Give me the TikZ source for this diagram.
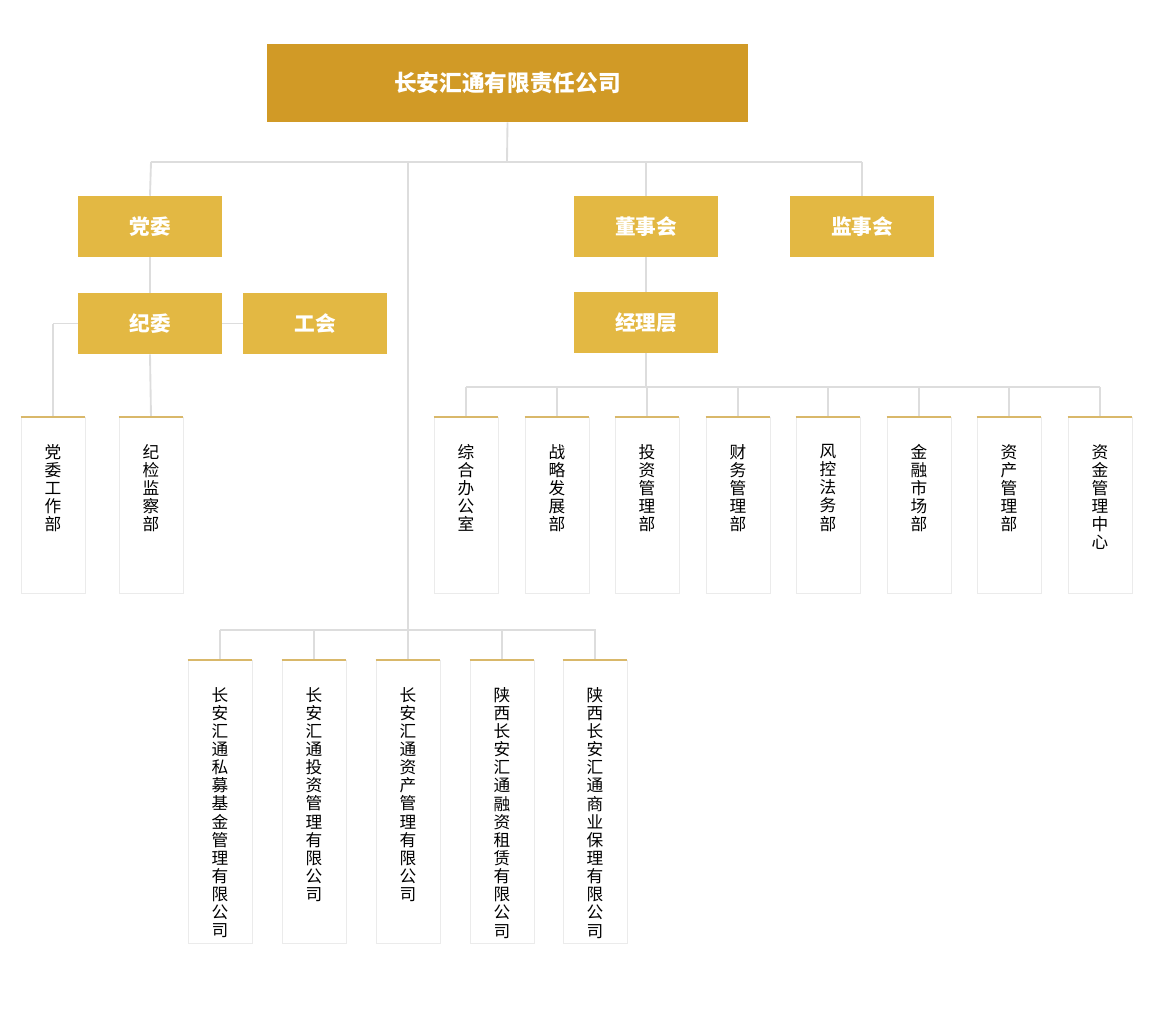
\documentclass[tikz,border=0pt]{standalone}
\usepackage{fontspec}
\setmainfont{Noto Sans CJK SC}
\newfontfamily\cjkb{Noto Sans CJK SC}[BoldFont={* Bold}]
\begin{document}
\begin{tikzpicture}[x=0.75pt,y=-0.75pt,
 top/.style={fill=topgold,text=white,font=\fontsize{17}{20}\selectfont\bfseries,inner sep=0},
 gbox/.style={fill=boxgold,text=white,font=\fontsize{15.5}{18}\selectfont\bfseries,inner sep=0,minimum width=108pt,minimum height=45.75pt},
 card/.style={fill=white,draw=black!8,line width=0.6pt,inner sep=0},
 cardtxt/.style={anchor=north,align=center,inner sep=0,font=\fontsize{12.5}{13.6}\selectfont},
 link/.style={draw=linegray,line width=1.4pt}]
\definecolor{topgold}{HTML}{D19A26}
\definecolor{boxgold}{HTML}{E3B843}
\definecolor{linegray}{HTML}{DDDDDD}
\definecolor{cardtop}{HTML}{D9B86A}
\useasboundingbox (0,0) rectangle (1154,1008);
% top
\node[top,minimum width=360.75pt,minimum height=58.5pt] (root) at (507.5,83) {长安汇通有限责任公司};
\node[gbox] (dw) at (150,226.5) {党委};
\node[gbox] (jw) at (150,323.5) {纪委};
\node[gbox] (gh) at (315,323.5) {工会};
\node[gbox] (dsh) at (646,226.5) {董事会};
\node[gbox] (jsh) at (862,226.5) {监事会};
\node[gbox] (jlc) at (646,322.5) {经理层};
\coordinate (b1) at (507,162);
\coordinate (bl) at (151,162);
\coordinate (br) at (862,162);
\coordinate (bc) at (408,162);
\coordinate (bm) at (646,162);
\draw[link] (root.south) -- (b1);
\draw[link] (bl) -- (br);
\draw[link] (bl) -- (dw.north);
\draw[link] (br) -- (jsh.north);
\draw[link] (bm) -- (dsh.north);
\draw[link] (dw.south) -- (jw.north);
\draw[link] (jw.east) -- (gh.west);
\draw[link] (dsh.south) -- (jlc.north);
\coordinate (cb) at (408,630);
\draw[link] (bc) -- (cb);
% card macro
\newcommand\mycard[6]{% name, cx, top, bottom, text, parent coord
 \draw[link] (#6) -- (#2,#3);
 \node[card,minimum width=48pt,minimum height={(#4-#3)*0.75pt}] (#1) at (#2,{(#3+#4)/2}) {};
 \draw[cardtop,line width=1.5pt] (#1.north west) -- (#1.north east);
 \node[cardtxt] (#1t) at (#2,#3+27) {#5};
}
% left cards
\coordinate (jwl) at (53,323.5);
\draw[link] (jw.west) -- (jwl);
\mycard{l1}{53}{417}{593}{党\\委\\工\\作\\部}{jwl}
\mycard{l2}{151}{417}{593}{纪\\检\\监\\察\\部}{jw.south}
% right bus
\coordinate (rb) at (646,387);
\draw[link] (jlc.south) -- (rb);
\draw[link] (466,387) coordinate (rbl) -- (1100,387) coordinate (rbr);
\foreach \n/\x/\t in {r1/466/{综\\合\\办\\公\\室},r2/557/{战\\略\\发\\展\\部},r3/647/{投\\资\\管\\理\\部},r4/738/{财\\务\\管\\理\\部},r5/828/{风\\控\\法\\务\\部},r6/919/{金\\融\\市\\场\\部},r7/1009/{资\\产\\管\\理\\部},r8/1100/{资\\金\\管\\理\\中\\心}}{
 \coordinate (p\n) at (\x,387);
 \mycard{\n}{\x}{417}{593}{\t}{p\n}
}
% bottom bus
\draw[link] (220,630) -- (596,630);
\foreach \n/\x/\t in {c1/220/{长\\安\\汇\\通\\私\\募\\基\\金\\管\\理\\有\\限\\公\\司},c2/314/{长\\安\\汇\\通\\投\\资\\管\\理\\有\\限\\公\\司},c3/408/{长\\安\\汇\\通\\资\\产\\管\\理\\有\\限\\公\\司},c4/502/{陕\\西\\长\\安\\汇\\通\\融\\资\\租\\赁\\有\\限\\公\\司},c5/595/{陕\\西\\长\\安\\汇\\通\\商\\业\\保\\理\\有\\限\\公\\司}}{
 \coordinate (p\n) at (\x,630);
 \mycard{\n}{\x}{660}{943}{\t}{p\n}
}
\end{tikzpicture}
\end{document}
